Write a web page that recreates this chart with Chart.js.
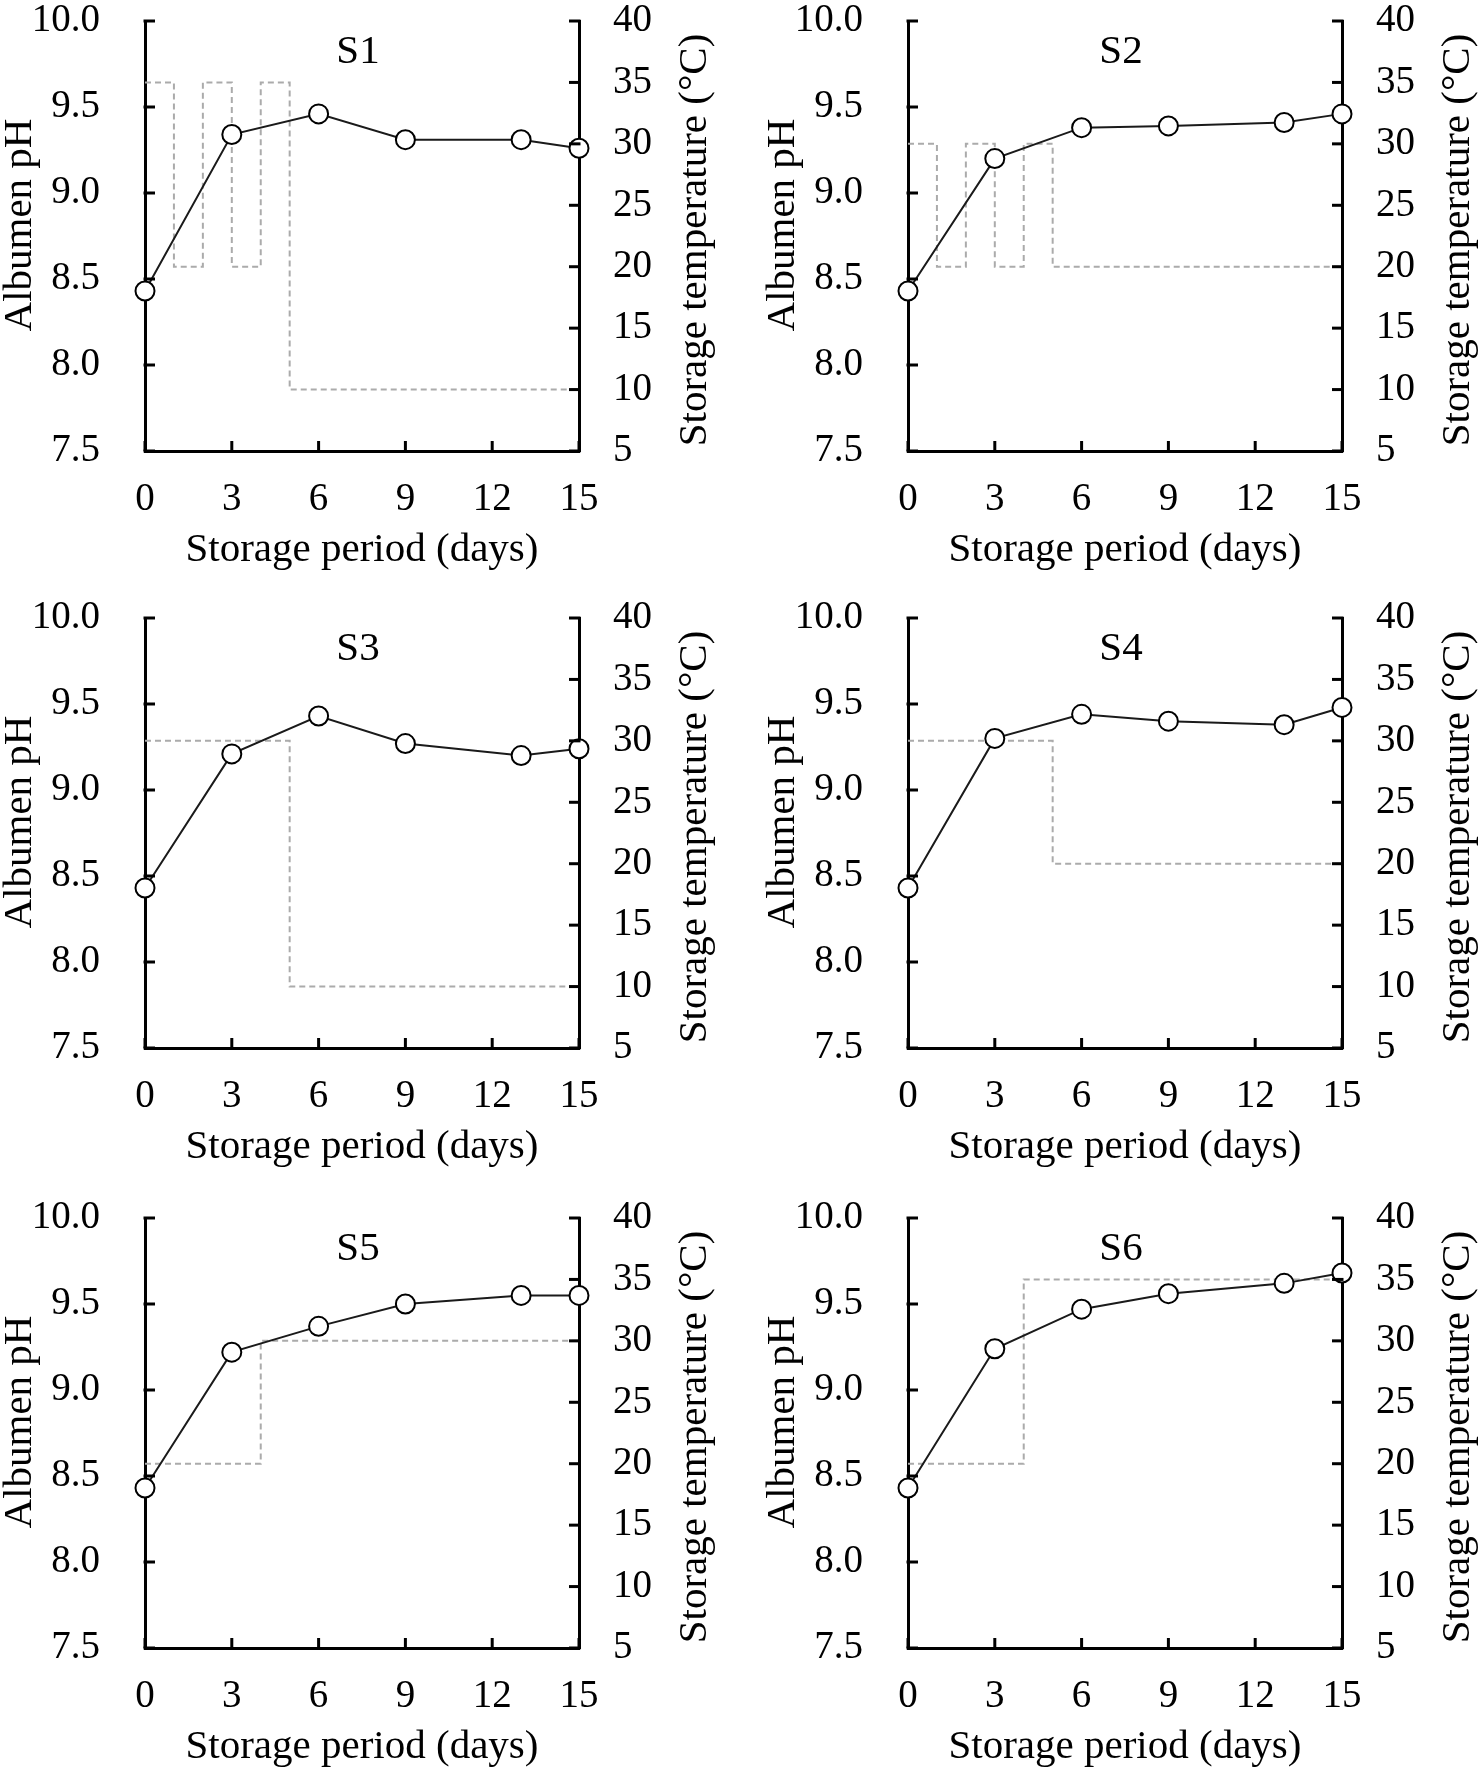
<!DOCTYPE html>
<html>
<head>
<meta charset="utf-8">
<script src="https://cdn.jsdelivr.net/npm/chart.js@4.4.1/dist/chart.umd.min.js"></script>
<style>
  html, body { margin: 0; padding: 0; background: #fff; width: 1480px; height: 1769px; overflow: hidden; position: relative; }
  canvas { position: absolute; }
</style>
</head>
<body>
<canvas id="c1" width="719" height="600"></canvas>
<canvas id="c2" width="719" height="600"></canvas>
<canvas id="c3" width="719" height="600"></canvas>
<canvas id="c4" width="719" height="600"></canvas>
<canvas id="c5" width="719" height="600"></canvas>
<canvas id="c6" width="719" height="600"></canvas>
<script>
// ---- data ----
const panelNames = ['S1', 'S2', 'S3', 'S4', 'S5', 'S6'];
const days = [0, 3, 6, 9, 13, 15];

const phS1 = [8.43, 9.34, 9.46, 9.31, 9.31, 9.26];
const phS2 = [8.43, 9.20, 9.38, 9.39, 9.41, 9.46];
const phS3 = [8.43, 9.21, 9.43, 9.27, 9.20, 9.24];
const phS4 = [8.43, 9.30, 9.44, 9.40, 9.38, 9.48];
const phS5 = [8.43, 9.22, 9.37, 9.50, 9.55, 9.55];
const phS6 = [8.43, 9.24, 9.47, 9.56, 9.62, 9.68];

// storage temperature profile: day at which each level starts, and the level
const tempDaysS1 = [0, 1, 2, 3, 4, 5, 15];
const tempS1     = [35, 20, 35, 20, 35, 10, 10];
const tempDaysS2 = [0, 1, 2, 3, 4, 5, 15];
const tempS2     = [30, 20, 30, 20, 30, 20, 20];
const tempDaysS3 = [0, 5, 15];
const tempS3     = [30, 10, 10];
const tempDaysS4 = [0, 5, 15];
const tempS4     = [30, 20, 20];
const tempDaysS5 = [0, 4, 15];
const tempS5     = [20, 30, 30];
const tempDaysS6 = [0, 4, 15];
const tempS6     = [20, 35, 35];

const xTitle = 'Storage period (days)';
const yTitle = 'Albumen pH';
const y1Title = 'Storage temperature (°C)';

const phSeries = [phS1, phS2, phS3, phS4, phS5, phS6];
const tempDaysSeries = [tempDaysS1, tempDaysS2, tempDaysS3, tempDaysS4, tempDaysS5, tempDaysS6];
const tempSeries = [tempS1, tempS2, tempS3, tempS4, tempS5, tempS6];

// ---- layout ----
const canvasLeft = [0, 763, 0, 763, 0, 763];
const canvasTop = [-19, -19, 578, 578, 1178, 1178];

const FONT = "'Liberation Serif', 'Times New Roman', serif";

const noPad = s => { s.paddingTop = 0; s.paddingBottom = 0; s.paddingLeft = 0; s.paddingRight = 0; };

const innerTicks = {
  id: 'innerTicks',
  afterDatasetsDraw(chart) {
    const ctx = chart.ctx;
    const area = chart.chartArea;
    const len = 10;
    ctx.save();
    ctx.strokeStyle = '#000';
    ctx.lineWidth = 3;
    ctx.lineCap = 'butt';
    const xs = chart.scales.x;
    xs.ticks.forEach(t => {
      const px = xs.getPixelForValue(t.value);
      ctx.beginPath();
      ctx.moveTo(px, area.bottom);
      ctx.lineTo(px, area.bottom - len);
      ctx.stroke();
    });
    const ys = chart.scales.y;
    ys.ticks.forEach(t => {
      const py = ys.getPixelForValue(t.value);
      ctx.beginPath();
      ctx.moveTo(area.left - 1.5, py);
      ctx.lineTo(area.left + len, py);
      ctx.stroke();
    });
    const y1 = chart.scales.y1;
    y1.ticks.forEach(t => {
      const py = y1.getPixelForValue(t.value);
      ctx.beginPath();
      ctx.moveTo(area.right + 1.5, py);
      ctx.lineTo(area.right - len, py);
      ctx.stroke();
    });
    ctx.restore();
  }
};

const panelText = {
  id: 'panelText',
  afterDraw(chart, args, opts) {
    const ctx = chart.ctx;
    const area = chart.chartArea;
    const cy = (area.top + area.bottom) / 2;
    ctx.save();
    ctx.fillStyle = '#000';
    ctx.font = '41px ' + FONT;
    ctx.textAlign = 'center';
    ctx.textBaseline = 'middle';
    ctx.fillText(opts.text, (area.left + area.right) / 2 - 4, area.top + 31);
    // left axis title (reads bottom to top)
    ctx.save();
    ctx.translate(area.left - 125, cy - 11);
    ctx.rotate(-Math.PI / 2);
    ctx.fillText(yTitle, 0, 0);
    ctx.restore();
    // right axis title (also reads bottom to top)
    ctx.save();
    ctx.translate(area.right + 116, cy + 4);
    ctx.rotate(-Math.PI / 2);
    ctx.fillText(y1Title, 0, 0);
    ctx.restore();
    ctx.restore();
  }
};

for (let i = 0; i < 6; i++) {
  const cv = document.getElementById('c' + (i + 1));
  cv.style.left = canvasLeft[i] + 'px';
  cv.style.top = canvasTop[i] + 'px';

  const phData = days.map((d, k) => ({ x: d, y: phSeries[i][k] }));
  const tData = tempDaysSeries[i].map((d, k) => ({ x: d, y: tempSeries[i][k] }));

  new Chart(cv, {
    type: 'line',
    data: {
      datasets: [
        {
          label: 'pH',
          data: phData,
          yAxisID: 'y',
          borderColor: '#1a1a1a',
          borderWidth: 2,
          pointRadius: 9.5,
          pointBorderWidth: 2,
          pointBackgroundColor: '#fff',
          pointBorderColor: '#000',
          clip: false,
          tension: 0
        },
        {
          label: 'Temperature',
          data: tData,
          yAxisID: 'y1',
          stepped: 'before',
          borderColor: '#ababab',
          borderWidth: 2,
          borderDash: [6, 4],
          pointRadius: 0,
          clip: false
        }
      ]
    },
    options: {
      responsive: false,
      animation: false,
      devicePixelRatio: 1,
      events: [],
      layout: { padding: { top: 40, left: 0, right: 0, bottom: 0 } },
      plugins: {
        legend: { display: false },
        tooltip: { enabled: false },
        title: { display: false },
        panelText: { text: panelNames[i] }
      },
      scales: {
        x: {
          type: 'linear',
          min: 0, max: 15,
          afterFit: s => { noPad(s); s.height = 130; },
          grid: { display: false, drawTicks: false },
          border: { display: true, color: '#000', width: 3 },
          ticks: { stepSize: 3, padding: 25, color: '#000', font: { family: FONT, size: 39 }, maxRotation: 0 },
          title: { display: true, text: xTitle, color: '#000', font: { family: FONT, size: 41 }, padding: { top: 0, bottom: 6 } }
        },
        y: {
          type: 'linear',
          position: 'left',
          min: 7.5, max: 10,
          afterFit: s => { noPad(s); s.width = 145; },
          grid: { display: false, drawTicks: false },
          border: { display: true, color: '#000', width: 3 },
          ticks: { stepSize: 0.5, padding: 45, color: '#000', font: { family: FONT, size: 39 }, callback: v => Number(v).toFixed(1) },
          title: { display: false, text: yTitle }
        },
        y1: {
          type: 'linear',
          position: 'right',
          min: 5, max: 40,
          afterFit: s => { noPad(s); s.width = 140; },
          grid: { display: false, drawTicks: false },
          border: { display: true, color: '#000', width: 3 },
          ticks: { stepSize: 5, padding: 34, color: '#000', font: { family: FONT, size: 39 } },
          title: { display: false, text: y1Title }
        }
      }
    },
    plugins: [innerTicks, panelText]
  });
}
</script>
</body>
</html>
